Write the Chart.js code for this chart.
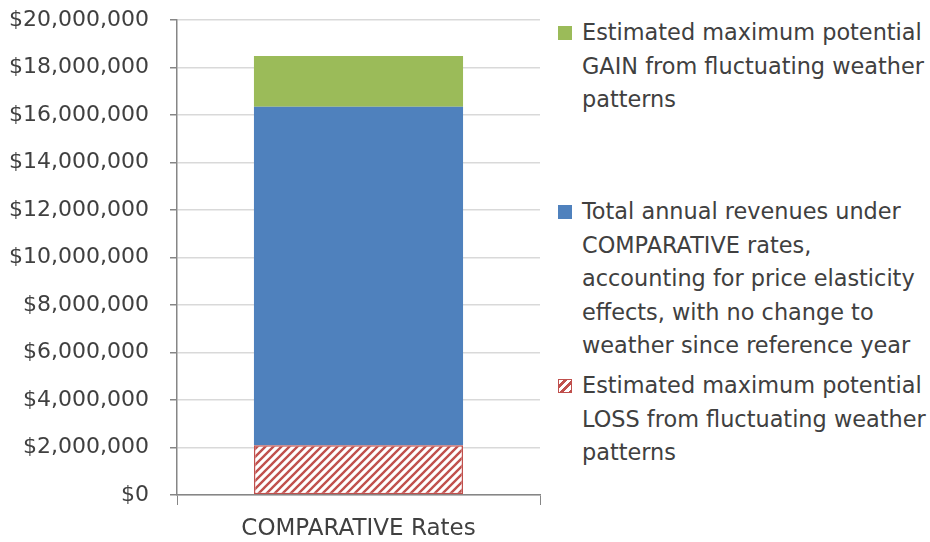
<!DOCTYPE html>
<html>
<head>
<meta charset="utf-8">
<script src="https://cdn.jsdelivr.net/npm/chart.js@4.4.1/dist/chart.umd.min.js"></script>
<style>
    body { margin: 0; background: #fff; font-family: 'DejaVu Sans', sans-serif; }
    #wrap { position: relative; width: 930px; height: 542px; }
    #chartBox { position: absolute; left: 0; top: 0; width: 545px; height: 542px; }
    .leg { position: absolute; left: 558px; font-size: 22.4px; line-height: 33.5px; color: #404040; white-space: nowrap; }
    .leg .box { position: absolute; left: 0; top: 10px; width: 14px; height: 14px; box-sizing: border-box; }
    .leg .txt { margin-left: 24px; }
</style>
</head>
<body>
<div id="wrap">
    <div id="chartBox"><canvas id="revChart"></canvas></div>
    <div class="leg" style="top:16px;">
        <span class="box" style="background:#9BBB59;"></span>
        <div class="txt">Estimated maximum potential<br>GAIN from fluctuating weather<br>patterns</div>
    </div>
    <div class="leg" style="top:195px;">
        <span class="box" style="background:#4F81BD;"></span>
        <div class="txt">Total annual revenues under<br>COMPARATIVE rates,<br>accounting for price elasticity<br>effects, with no change to<br>weather since reference year</div>
    </div>
    <div class="leg" style="top:369px;">
        <span class="box" style="border:1.5px solid #C0504D; background: repeating-linear-gradient(135deg, #fff 0 3px, #C0504D 3px 6px);"></span>
        <div class="txt">Estimated maximum potential<br>LOSS from fluctuating weather<br>patterns</div>
    </div>
</div>
<script>
// Stacked revenue bar: loss (hatched) at the bottom, base revenue, then potential gain.
const categories = ['COMPARATIVE Rates'];
const lossValues = [2100000];
const revenueValues = [14250000];
const gainValues = [2130000];
const yTicks = [0, 2000000, 4000000, 6000000, 8000000, 10000000, 12000000, 14000000, 16000000, 18000000, 20000000];

// Diagonal red hatch on white, like the Excel "wide upward diagonal" fill.
function makeHatch() {
    const c = document.createElement('canvas');
    c.width = 8; c.height = 8;
    const g = c.getContext('2d');
    g.fillStyle = '#fff';
    g.fillRect(0, 0, 8, 8);
    g.strokeStyle = '#C0504D';
    g.lineWidth = 2.4;
    g.beginPath();
    g.moveTo(-1, 9); g.lineTo(9, -1);
    g.moveTo(-1, 1); g.lineTo(1, -1);
    g.moveTo(7, 9); g.lineTo(9, 7);
    g.stroke();
    return g.createPattern(c, 'repeat');
}

const fmt = v => '$' + v.toLocaleString('en-US');

const ctx = document.getElementById('revChart').getContext('2d');
new Chart(ctx, {
    type: 'bar',
    data: {
        labels: categories,
        datasets: [
            {
                label: 'Estimated maximum potential LOSS from fluctuating weather patterns',
                data: lossValues,
                backgroundColor: makeHatch(),
                borderColor: '#C0504D',
                borderWidth: 1.5,
                borderSkipped: false
            },
            {
                label: 'Total annual revenues under COMPARATIVE rates',
                data: revenueValues,
                backgroundColor: '#4F81BD',
                borderWidth: 0
            },
            {
                label: 'Estimated maximum potential GAIN from fluctuating weather patterns',
                data: gainValues,
                backgroundColor: '#9BBB59',
                borderWidth: 0
            }
        ]
    },
    options: {
        responsive: true,
        maintainAspectRatio: false,
        animation: false,
        layout: { padding: { top: 20, right: 5, left: 0, bottom: 0 } },
        plugins: {
            legend: { display: false },
            tooltip: { callbacks: { label: (item) => ' ' + fmt(item.parsed.y) } }
        },
        datasets: { bar: { barPercentage: 0.576, categoryPercentage: 1 } },
        scales: {
            x: {
                stacked: true,
                offset: true,
                border: { color: '#868686', width: 1.5 },
                grid: { offset: true, drawOnChartArea: false, drawTicks: true, tickLength: 10, tickColor: '#868686' },
                ticks: { color: '#404040', font: { family: 'DejaVu Sans', size: 23 }, padding: 10 },
                afterFit: (s) => { s.height = 47; s.paddingLeft = 0; s.paddingRight = 0; }
            },
            y: {
                stacked: true,
                min: 0,
                max: 20000000,
                afterBuildTicks: (s) => { s.ticks = yTicks.map(v => ({ value: v })); },
                border: { color: '#868686', width: 1.5 },
                grid: { color: '#D9D9D9', lineWidth: 1.5, tickLength: 7, tickColor: '#868686' },
                ticks: { color: '#404040', font: { family: 'DejaVu Sans', size: 22 }, padding: 21, callback: (v) => fmt(v) },
                afterFit: (s) => { s.width = 177; s.paddingTop = 0; s.paddingBottom = 0; }
            }
        }
    }
});
</script>
</body>
</html>
